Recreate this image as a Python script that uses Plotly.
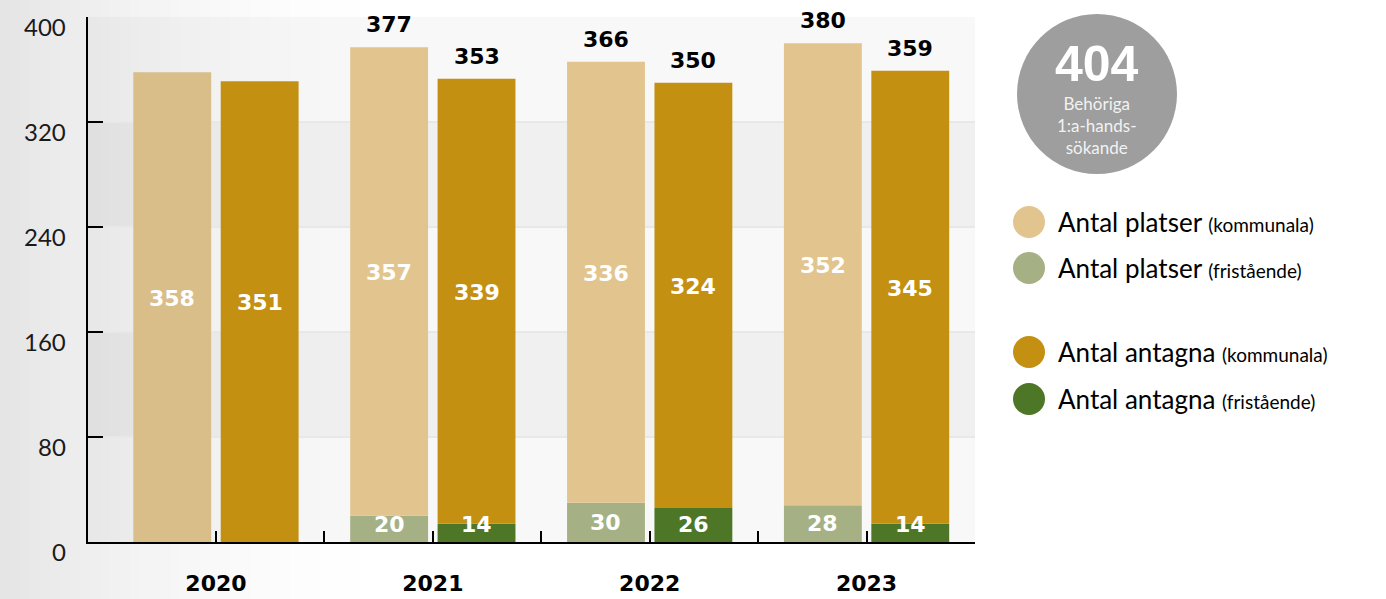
import plotly.graph_objects as go

# data
years = ["2020", "2021", "2022", "2023"]
platser_kommunala = [358, 357, 336, 352]
platser_fristaende = [0, 20, 30, 28]
antagna_kommunala = [351, 339, 324, 345]
antagna_fristaende = [0, 14, 26, 14]
behoriga = 404
y_ticks = [0, 80, 160, 240, 320, 400]

# colours
c_pk = ["#D9BE89", "#E2C58E", "#E2C58E", "#E2C58E"]
c_pf = "#A5B184"
c_ak = "#C49012"
c_af = "#4D7727"

W, H = 1386, 599
L, R, T, B = 88, 411, 17, 57
pw, ph = W - L - R, H - T - B


def px(x):
    return (x - L) / pw


def py(y):
    return (H - B - y) / ph


x_idx = list(range(len(years)))
bargap = 0.194
off = (1 - bargap) / 4

fig = go.Figure()
fig.add_trace(go.Bar(x=x_idx, y=platser_fristaende, offsetgroup="p", marker_color=c_pf,
                     marker_line_width=0, showlegend=False, hoverinfo="skip"))
fig.add_trace(go.Bar(x=x_idx, y=platser_kommunala, base=platser_fristaende, offsetgroup="p",
                     marker_color=c_pk, marker_line_width=0, showlegend=False, hoverinfo="skip"))
fig.add_trace(go.Bar(x=x_idx, y=antagna_fristaende, offsetgroup="a", marker_color=c_af,
                     marker_line_width=0, showlegend=False, hoverinfo="skip"))
fig.add_trace(go.Bar(x=x_idx, y=antagna_kommunala, base=antagna_fristaende, offsetgroup="a",
                     marker_color=c_ak, marker_line_width=0, showlegend=False, hoverinfo="skip"))

# bar labels
lab_font_w = dict(family="DejaVu Sans", size=22, color="white")
lab_font_b = dict(family="DejaVu Sans", size=22, color="black")
for i in x_idx:
    for dx, kom, fri in [(-off, platser_kommunala[i], platser_fristaende[i]),
                         (off, antagna_kommunala[i], antagna_fristaende[i])]:
        fig.add_annotation(x=i + dx, y=fri + kom / 2, text=f"<b>{kom}</b>", showarrow=False,
                           font=lab_font_w, yshift=9)
        if fri > 0:
            fig.add_annotation(x=i + dx, y=max(fri / 2, 13), text=f"<b>{fri}</b>", showarrow=False,
                               font=lab_font_w, yshift=0)
            fig.add_annotation(x=i + dx, y=fri + kom, text=f"<b>{fri + kom}</b>", showarrow=False,
                               font=lab_font_b, yanchor="bottom", yshift=8)

# y tick labels (sit slightly below their ticks)
for v in y_ticks:
    fig.add_annotation(xref="paper", yref="y", x=px(68), y=v, text=str(v), showarrow=False,
                       xanchor="right", yanchor="middle", yshift=-9,
                       font=dict(family="Lato", size=24, color="#1a1a1a"))

shapes = []
# plot area background
shapes.append(dict(type="rect", xref="paper", yref="paper", x0=0, x1=1, y0=0, y1=1,
                   fillcolor="#F8F8F8", line_width=0, layer="below"))
# left gradient
n = 42
gw = 420
for k in range(n):
    x0 = gw * k / n
    x1 = gw * (k + 1) / n
    a = 0.105 * (1 - (x0 + x1) / 2 / gw) ** 2
    shapes.append(dict(type="rect", xref="paper", yref="paper", x0=px(x0), x1=px(x1),
                       y0=py(H), y1=py(0), fillcolor=f"rgba(0,0,0,{a:.4f})",
                       line_width=0, layer="below"))
# bands
for y0, y1 in [(80, 160), (240, 320)]:
    shapes.append(dict(type="rect", xref="paper", yref="y", x0=0, x1=1, y0=y0, y1=y1,
                       fillcolor="rgba(0,0,0,0.03)", line_width=0, layer="below"))

# big circle
cx, cy, r = 1097, 94, 80
shapes.append(dict(type="circle", xref="paper", yref="paper", x0=px(cx - r), x1=px(cx + r),
                   y0=py(cy + r), y1=py(cy - r), fillcolor="#9D9E9D", line_width=0))
fig.add_annotation(xref="paper", yref="paper", x=px(cx), y=py(64), text=f"<b>{behoriga}</b>",
                   showarrow=False, xanchor="center", yanchor="middle",
                   font=dict(family="Liberation Sans", size=50, color="white"))
fig.add_annotation(xref="paper", yref="paper", x=px(cx), y=py(126),
                   text="Behöriga<br>1:a-hands-<br>sökande", showarrow=False,
                   xanchor="center", yanchor="middle",
                   font=dict(family="Lato", size=17, color="#F2F2F2"))

# custom legend
legend_items = [
    ("Antal platser", "(kommunala)", "#E2C58E", 222),
    ("Antal platser", "(fristående)", c_pf, 268),
    ("Antal antagna", "(kommunala)", c_ak, 352),
    ("Antal antagna", "(fristående)", c_af, 399),
]
for main, sub, col, yy in legend_items:
    shapes.append(dict(type="circle", xref="paper", yref="paper", x0=px(1013), x1=px(1045),
                       y0=py(yy + 16), y1=py(yy - 16), fillcolor=col, line_width=0))
    fig.add_annotation(xref="paper", yref="paper", x=px(1056), y=py(yy), xanchor="left",
                       yanchor="middle",
                       text=f"{main} <span style='font-size:19px'>{sub}</span>",
                       showarrow=False, font=dict(family="Lato", size=26, color="black"))

fig.update_layout(
    width=W, height=H,
    margin=dict(l=L, r=R, t=T, b=B),
    barmode="group", bargap=bargap, bargroupgap=0.109,
    paper_bgcolor="white", plot_bgcolor="rgba(0,0,0,0)",
    shapes=shapes,
    showlegend=False,
)
fig.update_xaxes(
    range=[-0.59, 3.5],
    tickmode="array",
    tickvals=[v / 2 for v in range(2 * len(years))],
    ticktext=[f"<b>{years[v // 2]}</b>" if v % 2 == 0 else "" for v in range(2 * len(years))],
    ticks="inside", ticklen=11, tickwidth=2, tickcolor="black",
    showline=True, linecolor="black", linewidth=2,
    showgrid=False, zeroline=False, automargin=False,
    tickfont=dict(family="DejaVu Sans", size=22, color="black"),
    ticklabelstandoff=21,
)
fig.update_yaxes(
    range=[0, 400],
    tickmode="array", tickvals=y_ticks, showticklabels=False,
    ticks="inside", ticklen=15, tickwidth=2, tickcolor="black",
    showline=True, linecolor="black", linewidth=2, automargin=False,
    showgrid=True, gridcolor="#E8E8E8", gridwidth=2, zeroline=False,
)

fig.write_html("out.html", config={"displayModeBar": False},
               post_script="document.body.style.margin='0';")
